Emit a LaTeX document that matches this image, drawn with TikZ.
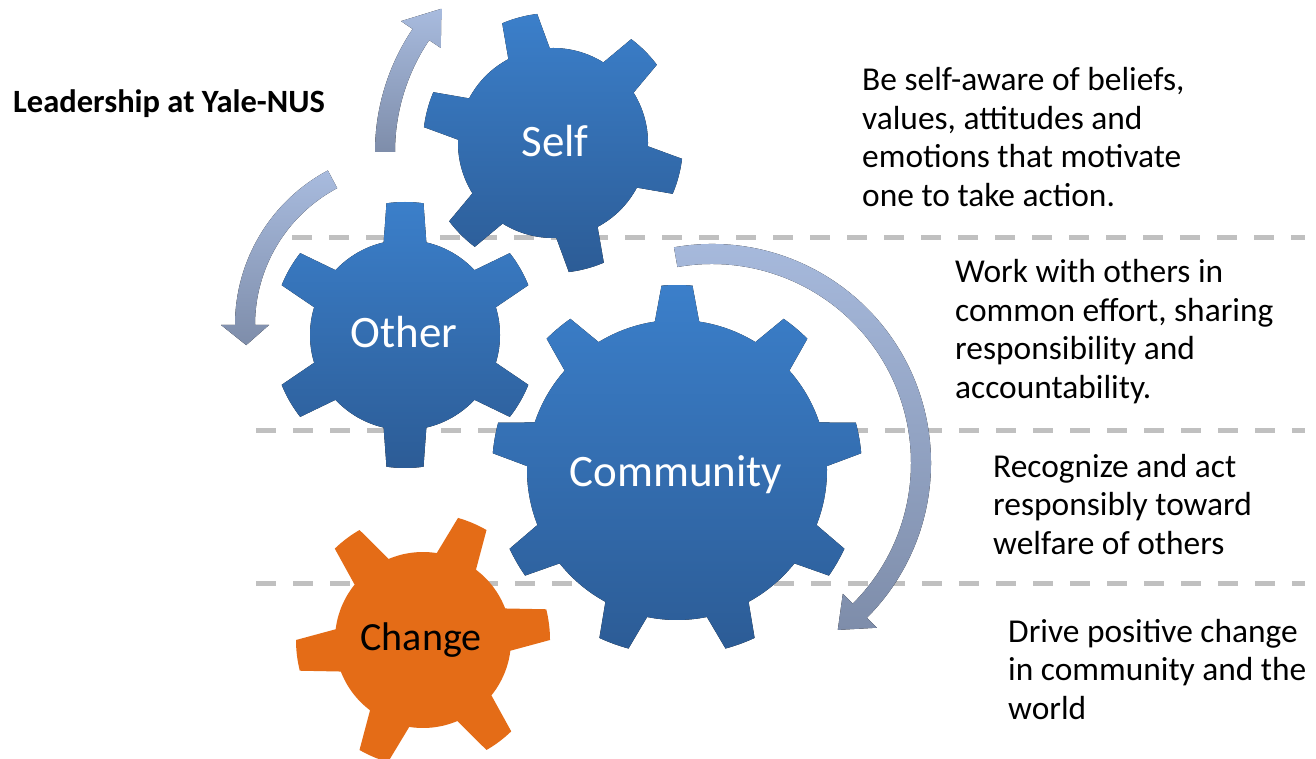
\documentclass[tikz,border=0pt]{standalone}
\usepackage{fontspec}
\setmainfont{Carlito}
\definecolor{cogtop}{RGB}{59,127,202}
\definecolor{cogbot}{RGB}{44,92,150}
\definecolor{cogorange}{RGB}{228,108,23}
\definecolor{arrtop}{RGB}{168,187,222}
\definecolor{arrbot}{RGB}{126,141,170}
\definecolor{dashgray}{RGB}{192,192,192}
% cog: (centre)(teeth:phase:body radius:tip radius:base half-angle:tip half-angle)
\def\cog[#1](#2)(#3:#4:#5:#6:#7:#8){\fill[#1,shift={(#2)}] (#4-#7:#5)
  \foreach \k in {1,...,#3}{ -- ({#4+(\k-1)*360/#3-#8}:#6) arc ({#4+(\k-1)*360/#3-#8}:{#4+(\k-1)*360/#3+#8}:#6)
    -- ({#4+(\k-1)*360/#3+#7}:#5) arc ({#4+(\k-1)*360/#3+#7}:{#4+\k*360/#3-#7}:#5)} -- cycle;}
% bent arrow: (centre)(start:head base:tip:radius)
\def\bentarrow[#1](#2)(#3:#4:#5:#6){\fill[#1,shift={(#2)}] (#3:#6+10) arc (#3:#4:#6+10) -- (#4:#6+24) -- (#5:#6)
  -- (#4:#6-24) -- (#4:#6-10) arc (#4:#3:#6-10) -- cycle;}
\tikzset{
  sepline/.style={dashgray, line width=5pt, dash pattern=on 20pt off 17pt},
  bluecog/.style={top color=cogtop, bottom color=cogbot},
  arrowband/.style={top color=arrtop, bottom color=arrbot},
  cogtext/.style={font=\fontsize{45}{50}\selectfont, text=white, anchor=base, inner sep=0pt},
  blurb/.style={font=\fontsize{33.4}{38.5}\selectfont, align=left, anchor=base west, inner sep=0pt},
}
\begin{document}
\begin{tikzpicture}[x=1pt, y=1pt]
			\useasboundingbox (0,0) rectangle (1316,758);
			\fill[white] (0,0) rectangle (1316,758);
			
			%%%%% dashed separators %%%%%
			\draw[sepline] (292,520) -- (1305,520);
			\draw[sepline] (256,327) -- (1305,327);
			\draw[sepline] (256,175) -- (1305,175);
			
			%%%%% arrows %%%%%
			\bentarrow[arrowband](595,606)(180:146:137:210)
			\bentarrow[arrowband](410,433)(118:180:187:165)
			\bentarrow[arrowband](712,295)(100:-45:-53:209)
			
			%%%%% cogs %%%%%
			\cog[bluecog](553,615)(6:45:95:130:13:8)
			\cog[bluecog](405,423)(6:90:95:133:13:8)
			\cog[bluecog](677,288)(9:10:150:185:8.5:4.8)
			\cog[fill=cogorange](423,118)(6:7:88:127:14:7)
			
			\node[cogtext] (self) at (555,601) {Self};
			\node[cogtext] (other) at (404,410) {Other};
			\node[cogtext] (community) at (676,271) {Community};
			\node[cogtext, text=black, font=\fontsize{40}{46}\selectfont] (change) at (421,108) {Change};
			
			%%%%% texts (anchored on their last line) %%%%%
			\node[anchor=base west, inner sep=0pt, font=\fontsize{32.5}{38}\selectfont\bfseries] (lead) at (13,645) {Leadership at Yale-NUS};
			\node[blurb] (tself) at (862,551.5) {Be self-aware of beliefs,\\values, attitudes and\\emotions that motivate\\one to take action.};
			\node[blurb] (tother) at (955,359.5) {Work with others in\\common effort, sharing\\responsibility and\\accountability.};
			\node[blurb] (tcomm) at (993,204) {Recognize and act\\responsibly toward\\welfare of others};
			\node[blurb] (tchange) at (1008,39) {Drive positive change\\in community and the\\world};
\end{tikzpicture}
\end{document}
